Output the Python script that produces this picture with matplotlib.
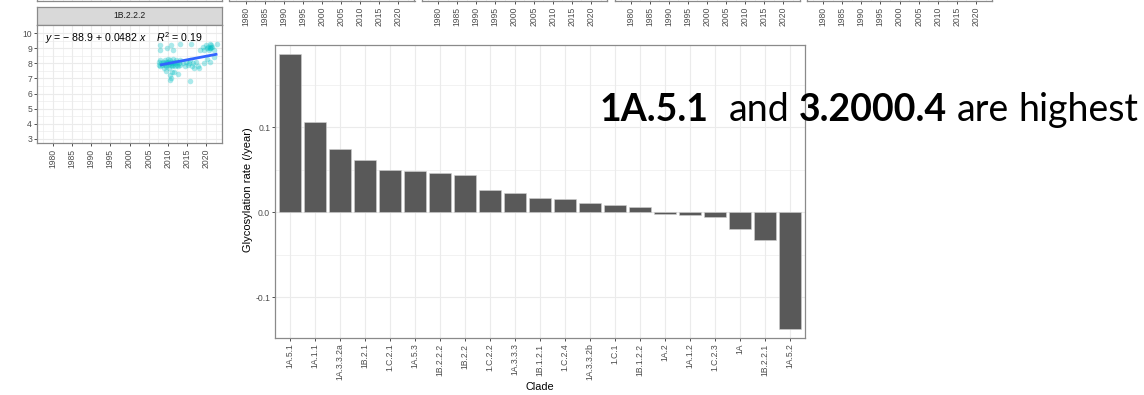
import matplotlib
matplotlib.use("Agg")
import matplotlib.pyplot as plt
from matplotlib.ticker import FixedLocator

W, H, DPI = 1144, 395, 100

# ---- bar chart: glycosylation rate per clade ----
clades = ["1A.5.1", "1A.1.1", "1A.3.3.2a", "1B.2.1", "1.C.2.1", "1A.5.3",
          "1B.2.2.2", "1B.2.2", "1.C.2.2", "1A.3.3.3", "1B.1.2.1", "1.C.2.4",
          "1A.3.3.2b", "1.C.1", "1B.1.2.2", "1A.2", "1A.1.2", "1.C.2.3",
          "1A", "1B.2.2.1", "1A.5.2"]
glyc_rate = [0.186, 0.106, 0.074, 0.061, 0.049, 0.048,
             0.046, 0.044, 0.026, 0.022, 0.017, 0.016,
             0.0105, 0.0086, 0.006, -0.002, -0.003, -0.0055,
             -0.0195, -0.033, -0.138]
rate_ticks = [-0.1, 0.0, 0.1]
rate_tick_labels = ["-0.1", "0.0", "0.1"]

# ---- facet panel: glycosylation sites over time for one clade ----
facet_title = "1B.2.2.2"
year_ticks = [1980, 1985, 1990, 1995, 2000, 2005, 2010, 2015, 2020]
site_ticks = [3, 4, 5, 6, 7, 8, 9, 10]
sample_year = [2007.6, 2007.8, 2008.0, 2008.1, 2008.3, 2008.5, 2008.7, 2008.9,
               2009.0, 2009.2, 2009.3, 2009.5, 2009.6, 2009.8, 2010.0, 2010.1,
               2010.2, 2010.4, 2010.5, 2010.6, 2010.8, 2010.9, 2011.0, 2011.2,
               2011.3, 2011.5, 2011.6, 2011.8, 2012.0, 2012.1, 2012.3, 2012.5,
               2012.7, 2012.9, 2013.1, 2013.3,
               2014.0, 2014.4, 2014.8, 2015.2, 2015.5, 2015.9, 2016.3, 2016.6,
               2017.0, 2017.4, 2017.8, 2018.2,
               2008.0, 2008.1, 2009.8, 2010.8, 2011.3, 2013.2, 2016.0, 2018.4,
               2019.2, 2019.6, 2020.0, 2020.3, 2020.5, 2020.8, 2021.0, 2021.1,
               2021.4, 2021.7, 2022.0, 2022.8, 2021.0, 2021.2,
               2019.5, 2021.0, 2020.2, 2022.2,
               2010.5, 2010.8, 2010.6, 2011.0, 2011.7, 2012.7, 2015.8, 2009.5]
sample_glyc = [7.9, 8.1, 7.8, 8.2, 8.0, 7.9, 8.1, 7.7,
               8.0, 8.2, 7.9, 8.1, 7.8, 8.0, 8.3, 7.9,
               8.1, 7.7, 8.0, 8.2, 7.9, 8.1, 7.8, 8.0,
               8.3, 7.9, 8.1, 7.8, 8.0, 8.2, 7.9, 8.1,
               7.8, 8.0, 8.2, 7.9,
               8.0, 7.8, 8.1, 7.9, 8.0, 8.2, 7.8, 8.0,
               7.7, 8.1, 7.8, 7.7,
               9.2, 8.9, 9.0, 9.2, 8.9, 9.3, 9.3, 8.9,
               9.1, 8.9, 9.2, 9.0, 9.1, 8.9, 9.3, 9.0,
               9.2, 9.1, 8.9, 9.3, 9.0, 9.1,
               8.0, 8.1, 8.3, 8.4,
               6.9, 7.0, 7.2, 7.4, 7.4, 7.3, 6.8, 7.5]
fit_intercept = -88.9
fit_slope = 0.0482
fit_r2 = 0.19
fit_span = [2008.0, 2023.0]

# ---- headline ----
headline = [("1A.5.1", "bold"), ("and", "normal"), ("3.2000.4", "bold"),
            ("are", "normal"), ("highest", "normal")]

plt.rcParams["font.family"] = ["Liberation Sans", "DejaVu Sans"]
plt.rcParams["mathtext.fontset"] = "custom"
plt.rcParams["mathtext.rm"] = "Liberation Sans"
plt.rcParams["mathtext.it"] = "Liberation Sans:italic"

TICK_FS = 6.2
TICK_COL = "#4D4D4D"
BORDER = "#8a8a8a"
GRID = "#EBEBEB"

fig = plt.figure(figsize=(W / DPI, H / DPI), dpi=DPI)
fig.patch.set_facecolor("white")


def px_axes(x0, y0, x1, y1):
    return fig.add_axes([x0 / W, 1 - y1 / H, (x1 - x0) / W, (y1 - y0) / H])


def bw_theme(ax):
    ax.set_facecolor("white")
    for sp in ax.spines.values():
        sp.set_color(BORDER)
        sp.set_linewidth(0.9)
    ax.tick_params(which="major", length=2.0, width=0.6, color="#333333",
                   labelsize=TICK_FS, labelcolor=TICK_COL, pad=1.5)
    ax.tick_params(which="minor", length=0)
    ax.grid(which="major", color=GRID, linewidth=0.8, zorder=0)
    ax.grid(which="minor", color=GRID, linewidth=0.45, zorder=0)
    ax.set_axisbelow(True)


def year_panel(ax, show_x, show_y):
    bw_theme(ax)
    ax.set_xlim(1975.8, 2024.2)
    ax.set_ylim(2.73, 10.53)
    ax.xaxis.set_major_locator(FixedLocator(year_ticks))
    ax.xaxis.set_minor_locator(FixedLocator([y + 2.5 for y in [1975] + year_ticks]))
    ax.yaxis.set_major_locator(FixedLocator(site_ticks))
    ax.yaxis.set_minor_locator(FixedLocator([v + 0.5 for v in site_ticks]))
    ax.set_xticklabels([str(y) for y in year_ticks], rotation=90)
    ax.tick_params(axis="x", pad=2.0)
    if not show_x:
        ax.tick_params(axis="x", length=0, labelbottom=False)
    if show_y == "marks":
        ax.tick_params(axis="y", labelleft=False)
    elif not show_y:
        ax.tick_params(axis="y", length=0, labelleft=False)


# top row of facet panels (only their lower edge is in view)
PANEL_W = 185
PANEL_STEP = 192.5
for col in range(5):
    x0 = 37 + col * PANEL_STEP
    ax = px_axes(x0, -80, x0 + PANEL_W, 1)
    year_panel(ax, show_x=(col > 0), show_y=("marks" if col == 0 else False))

# facet panel for clade 1B.2.2.2
strip = px_axes(37, 7, 37 + PANEL_W, 25)
strip.set_facecolor("#D9D9D9")
strip.set_xticks([])
strip.set_yticks([])
for sp in strip.spines.values():
    sp.set_color(BORDER)
    sp.set_linewidth(0.9)
strip.text(0.5, 0.5, facet_title, transform=strip.transAxes, ha="center",
           va="center", fontsize=TICK_FS, color="#1A1A1A")

fax = px_axes(37, 25, 37 + PANEL_W, 143)
year_panel(fax, show_x=True, show_y=True)
fax.scatter(sample_year, sample_glyc, s=16, color="#00BFC4", alpha=0.33,
            linewidths=0, zorder=3)
fit_vals = [fit_intercept + fit_slope * x for x in fit_span]
fax.plot(fit_span, fit_vals, color="#3366FF", linewidth=2.0, zorder=4,
         solid_capstyle="butt")
eq = (r"$\it{y}$ = $-$ " + f"{-fit_intercept:.1f} + {fit_slope:.4f} "
      + r"$\it{x}$    $\it{R}^2$ = " + f"{fit_r2:.2f}")
fig.text(45 / W, 1 - 42 / H, eq, fontsize=7.6, color="black",
         ha="left", va="baseline")

# main bar chart
ax = px_axes(275, 45, 805, 338)
bw_theme(ax)
xpos = list(range(len(clades)))
ax.bar(xpos, glyc_rate, width=0.9, color="#595959", edgecolor="#d0d0d0",
       linewidth=0.4, zorder=3)
ax.set_xlim(-0.6, len(clades) - 0.4)
ax.set_ylim(-0.148, 0.1965)
ax.set_xticks(xpos)
ax.set_xticklabels(clades, rotation=90)
ax.yaxis.set_major_locator(FixedLocator(rate_ticks))
ax.set_yticklabels(rate_tick_labels)
ax.yaxis.set_minor_locator(FixedLocator([-0.05, 0.05, 0.15]))
ax.tick_params(axis="x", pad=2.0)
fig.text(248 / W, 1 - 190 / H, "Glycosylation rate (/year)", rotation=90,
         ha="center", va="center", fontsize=8.0, color="black")
fig.text(540 / W, 1 - 387 / H, "Clade", ha="center", va="center",
         fontsize=7.8, color="black")

# headline text, laid out word by word
renderer = fig.canvas.get_renderer()
HEAD_FS = 27
probe_a = fig.text(0, 0, "nn", fontsize=HEAD_FS, family="Lato")
probe_b = fig.text(0, 0, "n n", fontsize=HEAD_FS, family="Lato")
space_w = (probe_b.get_window_extent(renderer).width
           - probe_a.get_window_extent(renderer).width)
probe_a.remove()
probe_b.remove()

x = 600.0
for i, (word, weight) in enumerate(headline):
    t = fig.text(x / W, 1 - 121 / H, word, fontsize=HEAD_FS, family="Lato",
                 weight=weight, color="black", ha="left", va="baseline")
    x += t.get_window_extent(renderer).width
    x += space_w * (2 if i == 0 else 1)

fig.savefig("out.png", dpi=DPI, facecolor="white")
